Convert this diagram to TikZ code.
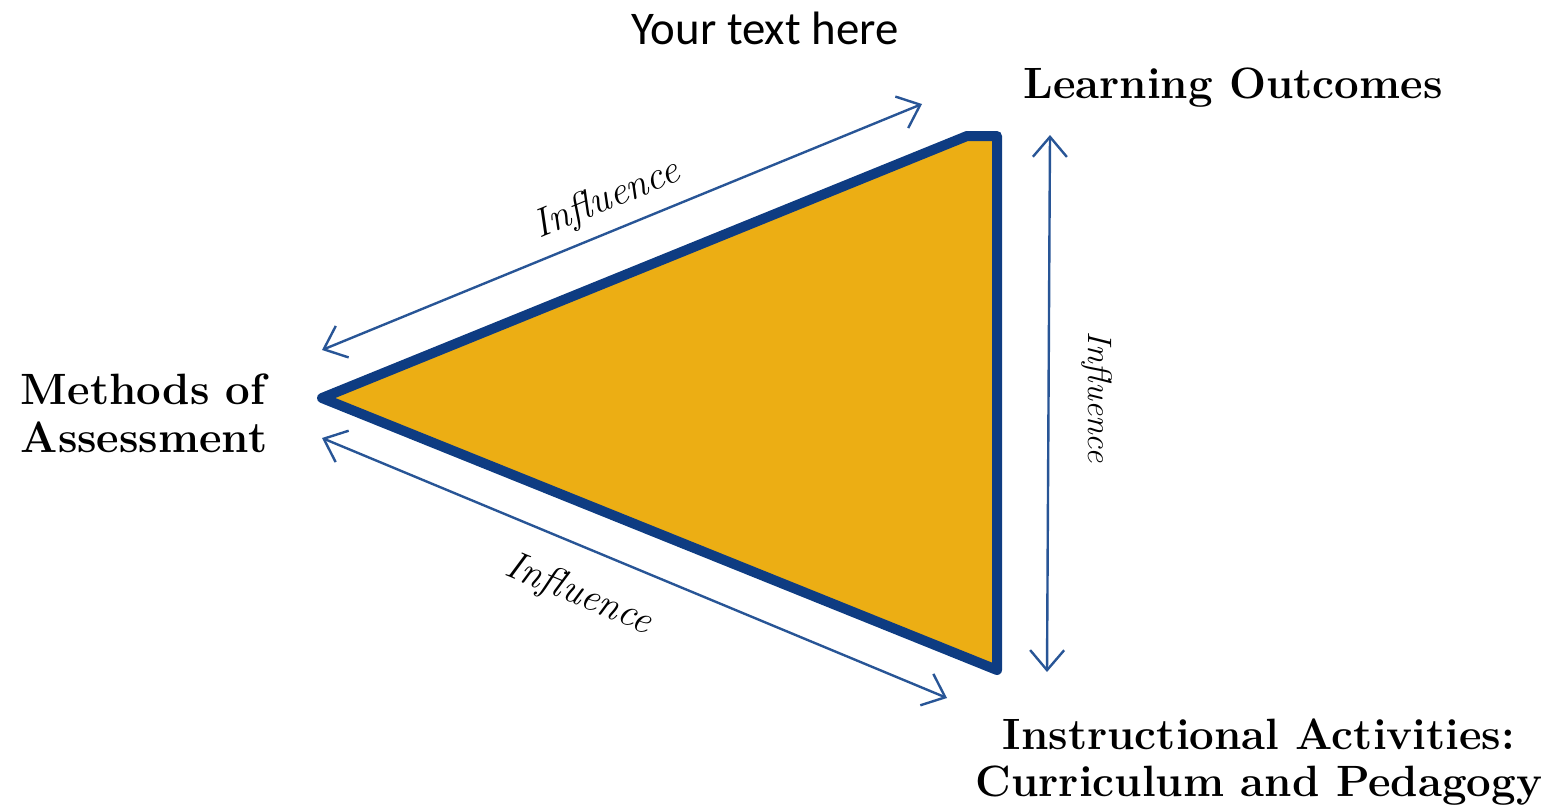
\documentclass[tikz,border=0pt]{standalone}
\usepackage{fontspec}
\newfontfamily\titlefont{Carlito}
\usetikzlibrary{arrows.meta}
\definecolor{trifill}{RGB}{236,174,20}
\definecolor{triedge}{RGB}{14,60,130}
\definecolor{linkcol}{RGB}{40,85,150}
\tikzset{
  corner/.style={font=\bfseries\fontsize{22}{24}\selectfont, align=center, inner sep=0pt},
  influence/.style={font=\itshape\fontsize{20}{22}\selectfont, inner sep=0pt},
  link/.style={draw=linkcol, line width=1.2bp,
    {Straight Barb[length=10bp,width=17bp]}-{Straight Barb[length=10bp,width=17bp]}}
}
\begin{document}
\begin{tikzpicture}[x=0.5bp,y=-0.5bp,line join=round]
  \useasboundingbox (0,0) rectangle (1555,808);
%%
  % Node: title
  \node (title) at (765,28) {\titlefont\fontsize{23.5}{26}\selectfont Your text here};
  % Triangle
  \coordinate (left) at (322,398);
  \coordinate (top) at (967,136);
  \coordinate (topright) at (997,136);
  \coordinate (bottom) at (997,670);
  \filldraw [fill=trifill, draw=triedge, line width=5bp]
    (left) -- (top) -- (topright) -- (bottom) -- cycle;
  % Arrow ends
  \coordinate (ul) at (322,350);
  \coordinate (ur) at (922,104);
  \coordinate (rt) at (1050,135);
  \coordinate (rb) at (1047,672);
  \coordinate (ll) at (322,438);
  \coordinate (lr) at (947,698);
  % Edge: outcomes <-> methods
  \draw [link] (ul) -- (ur);
  % Edge: outcomes <-> activities
  \draw [link] (rt) -- (rb);
  % Edge: methods <-> activities
  \draw [link] (ll) -- (lr);
  % Node: edge labels
  \node [influence, rotate=22.4] (inftop) at (607,200) {Influence};
  \node [influence, font=\itshape\fontsize{17}{19}\selectfont, rotate=-90] (infright) at (1097,397) {Influence};
  \node [influence, rotate=-22.6] (infbottom) at (579,595) {Influence};
  % Node: corners
  \node [corner] (outcomes) at (1233,88) {Learning Outcomes};
  \node [corner, align=left] (methods) at (144,413) {Methods of\\Assessment};
  \node [corner] (activities) at (1259,762) {Instructional Activities:\\Curriculum and Pedagogy};
%
\end{tikzpicture}
\end{document}
